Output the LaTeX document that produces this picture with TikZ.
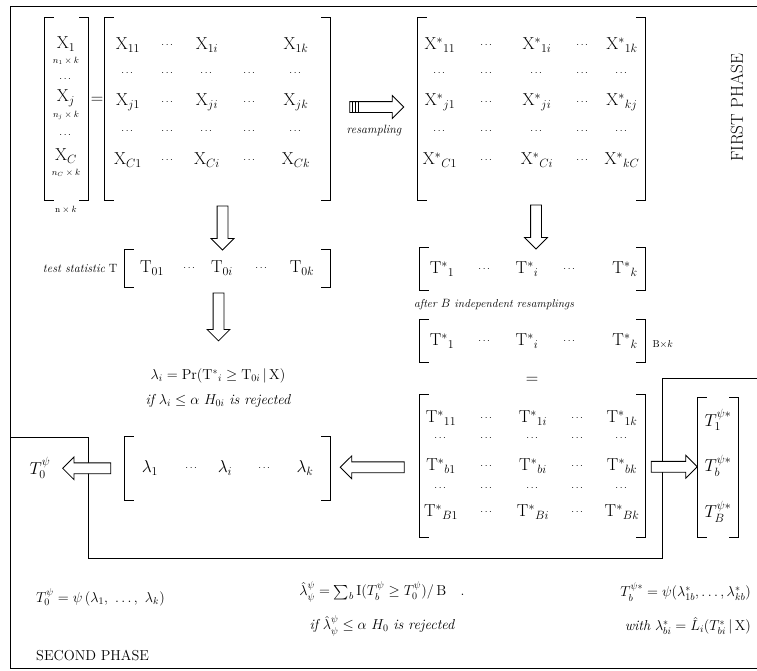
\documentclass[tikz,border=0pt]{standalone}
\usepackage{amsmath,amssymb}
\usepackage{tikz}
\usetikzlibrary{shapes.arrows,calc}
\newcommand{\sdots}{\text{\normalsize$\cdots$}}

\begin{document}
\begin{tikzpicture}[x=1pt,y=-1pt,
    ent/.style={font=\LARGE},
    dts/.style={font=\normalsize},
    sub/.style={font=\small},
    lbl/.style={font=\large\itshape},
    frml/.style={font=\Large,inner sep=1pt},
    box/.style={inner sep=0pt},
    brk/.style={line width=1.1pt},
    frm/.style={line width=0.9pt},
    barrow/.style={single arrow, draw, fill=white, line width=0.8pt, inner sep=5pt,
      single arrow head extend=6pt, minimum height=#1}]
  \useasboundingbox (0,0) rectangle (757,670);

  % frame of both phases
  \draw[frm] (757,6) -- (10,6) -- (10,668) -- (757,668);
  \draw[frm] (10,437) -- (88,437) -- (88,558) -- (662,558) -- (662,378) -- (757,378);

  % bracket boxes
  \node[box,minimum width=43,minimum height=183] (vecX) at (66.5,109) {};
  \node[box,minimum width=225,minimum height=183] (matX) at (217.5,109) {};
  \node[box,minimum width=227,minimum height=183] (matXs) at (531.5,109) {};
  \node[box,minimum width=205,minimum height=37] (vecT) at (227.5,268.5) {};
  \node[box,minimum width=225,minimum height=42] (vecTs) at (532.5,269) {};
  \node[box,minimum width=225,minimum height=42] (vecTB) at (532.5,341) {};
  \node[box,minimum width=225,minimum height=142] (matB) at (532.5,466) {};
  \node[box,minimum width=205,minimum height=63] (vecL) at (227.5,468.5) {};
  \node[box,minimum width=40,minimum height=139] (vecP) at (718,467.5) {};
  \foreach \m in {vecX,matX,matXs,vecT,vecTs,vecTB,matB,vecL,vecP}{
    \draw[brk] ([xshift=9]\m.north west) -- (\m.north west) -- (\m.south west) -- ([xshift=9]\m.south west);
    \draw[brk] ([xshift=-9]\m.north east) -- (\m.north east) -- (\m.south east) -- ([xshift=-9]\m.south east);}

  % data vector X
  \foreach \r/\y/\t in {1/44/{\mathrm{X}_1},j/98/{\mathrm{X}_j},C/156/{\mathrm{X}_C}}
    \node[ent] (vx\r) at (66,\y) {$\t$};
  \foreach \r/\y/\t in {1/61/{n_1\times k},j/115/{n_j\times k},C/173/{n_C\times k}}
    \node[sub] (vn\r) at (66,\y) {$\t$};
  \node[dts] (vd1) at (66,79) {$\cdots$};
  \node[dts] (vd2) at (66,135) {$\cdots$};
  \node[sub] (nk) at (66,210) {$\mathrm{n}\times k$};
  \node[ent] (eq1) at (97,100) {$=$};

  % matrix X
  \foreach \c/\x/\a/\b/\d in {1/128/{\mathrm{X}_{11}}/{\mathrm{X}_{j1}}/{\mathrm{X}_{C1}},
      2/168/\sdots/\sdots/\sdots, 3/207/{\mathrm{X}_{1i}}/{\mathrm{X}_{ji}}/{\mathrm{X}_{Ci}},
      4/250/{}/\sdots/\sdots, 5/296/{\mathrm{X}_{1k}}/{\mathrm{X}_{jk}}/{\mathrm{X}_{Ck}}}{
    \node[ent] (x1\c) at (\x,45) {$\a$};
    \node[dts] (xa\c) at (\x,73) {$\cdots$};
    \node[ent] (xj\c) at (\x,102) {$\b$};
    \node[dts] (xb\c) at (\x,131) {$\cdots$};
    \node[ent] (xC\c) at (\x,160) {$\d$};}

  % resampled matrix X*
  \foreach \c/\x/\a/\b/\d in {1/440/{\mathrm{X}^*{}_{11}}/{\mathrm{X}^*{}_{j1}}/{\mathrm{X}^*{}_{C1}},
      2/487/\sdots/\sdots/\sdots, 3/537/{\mathrm{X}^*{}_{1i}}/{\mathrm{X}^*{}_{ji}}/{\mathrm{X}^*{}_{Ci}},
      4/583/\sdots/\sdots/\sdots, 5/622/{\mathrm{X}^*{}_{1k}}/{\mathrm{X}^*{}_{kj}}/{\mathrm{X}^*{}_{kC}}}{
    \node[ent] (s1\c) at (\x,45) {$\a$};
    \node[dts] (sa\c) at (\x,73) {$\cdots$};
    \node[ent] (sj\c) at (\x,102) {$\b$};
    \node[dts] (sb\c) at (\x,131) {$\cdots$};
    \node[ent] (sC\c) at (\x,160) {$\d$};}
  \node[lbl] (rs) at (374,131) {resampling};
  \node[font=\LARGE,rotate=90] (ph1) at (737,108) {FIRST PHASE};

  % test statistics
  \node[anchor=east,font=\large] (tst) at (121,268) {{\itshape test statistic} $\mathrm{T}$};
  \foreach \c/\x/\t in {1/152/{\mathrm{T}_{01}},2/190/\sdots,3/222/{\mathrm{T}_{0i}},4/262/\sdots,5/302/{\mathrm{T}_{0k}}}
    \node[ent] (t0\c) at (\x,268) {$\t$};
  \foreach \c/\x/\t in {1/442/{\mathrm{T}^*{}_1},2/485/\sdots,3/527/{\mathrm{T}^*{}_i},4/570/\sdots,5/625/{\mathrm{T}^*{}_k}}{
    \node[ent] (ts\c) at (\x,269) {$\t$};
    \node[ent] (tb\c) at (\x,341) {$\t$};}
  \node[font=\fontsize{11.5}{14}\selectfont\itshape] (aft) at (494,305) {after $B$ independent resamplings};
  \node[anchor=west] (bk) at (649,344) {$\mathrm{B}{\times}k$};
  \node[ent] (eq2) at (532,380) {$=$};

  % p-values
  \node[frml] (lam) at (218,376) {$\lambda_i = \Pr(\mathrm{T}^*{}_i \ge \mathrm{T}_{0i}\,|\,\mathrm{X})$};
  \node[frml] (rej) at (218,401) {{\itshape if} $\lambda_i \le \alpha$ $H_{0i}$ {\itshape is rejected}};
  \foreach \c/\x/\t in {1/150/{\lambda_1},2/192/\sdots,3/225/{\lambda_i},4/265/\sdots,5/305/{\lambda_k}}
    \node[ent] (l\c) at (\x,468) {$\t$};
  \node[ent] (T0) at (40,468) {$T_0^{\psi}$};

  % bootstrap matrix
  \foreach \c/\x/\a/\b/\d in {1/441/{\mathrm{T}^*{}_{11}}/{\mathrm{T}^*{}_{b1}}/{\mathrm{T}^*{}_{B1}},
      2/487/\sdots/\sdots/\sdots, 3/533/{\mathrm{T}^*{}_{1i}}/{\mathrm{T}^*{}_{bi}}/{\mathrm{T}^*{}_{Bi}},
      4/578/\sdots/\sdots/\sdots, 5/622/{\mathrm{T}^*{}_{1k}}/{\mathrm{T}^*{}_{bk}}/{\mathrm{T}^*{}_{Bk}}}{
    \node[ent] (b1\c) at (\x,418) {$\a$};
    \node[dts] (ba\c) at (\x,438) {$\cdots$};
    \node[ent] (bb\c) at (\x,466) {$\b$};
    \node[dts] (bc\c) at (\x,488) {$\cdots$};
    \node[ent] (bB\c) at (\x,512) {$\d$};}
  \foreach \r/\y in {1/420,b/466,B/512}
    \node[ent] (p\r) at (718,\y) {$T_\r^{\psi *}$};

  % block arrows
  \node[barrow=54] (ar1) at ($(matX.east)!.5!(matXs.west)+(0,-2)$) {};
  \foreach \d in {3,6,9}
    \draw[line width=0.6pt] ([xshift=\d]ar1.before tail) -- ([xshift=\d]ar1.after tail);
  \node[barrow=44,shape border rotate=270] (ar2) at ($(matX.south)!.5!(vecT.north)$) {};
  \node[barrow=44,shape border rotate=270] (ar3) at ($(matXs.south)!.5!(vecTs.north)+(4,0)$) {};
  \node[barrow=48,shape border rotate=270] (ar4) at ($(vecT.south)+(-9,27)$) {};
  \node[barrow=64,shape border rotate=180] (ar5) at ($(matB.west)!.5!(vecL.east)$) {};
  \node[barrow=48,shape border rotate=180] (ar6) at ($(vecL.west)!.5!(T0.east)$) {};
  \node[barrow=46] (ar7) at ($(matB.east)!.5!(vecP.west)$) {};

  % second phase formulas
  \node[anchor=west,frml] (f1) at (35,597) {$T_0^{\psi} = \psi\,(\lambda_1,\ \ldots,\ \lambda_k)$};
  \node[frml] (f2) at (382,592) {$\hat{\lambda}_{\psi}^{\psi} = \sum_b \mathrm{I}(T_b^{\psi} \ge T_0^{\psi})/\,\mathrm{B}$\quad .};
  \node[frml] (f3) at (382,626) {{\itshape if} $\hat{\lambda}_{\psi}^{\psi} \le \alpha$ $H_0$ {\itshape is rejected}};
  \node[anchor=east,frml] (f4) at (752,592) {$T_b^{\psi *} = \psi(\lambda^*_{1b},\ldots,\lambda^*_{kb})$};
  \node[anchor=east,frml] (f5) at (752,626) {{\itshape with} $\lambda^*_{bi} = \hat{L}_i(T^*_{bi}\,|\,\mathrm{X})$};
  \node[anchor=west,frml] (ph2) at (35,655) {SECOND PHASE};
\end{tikzpicture}
\end{document}
